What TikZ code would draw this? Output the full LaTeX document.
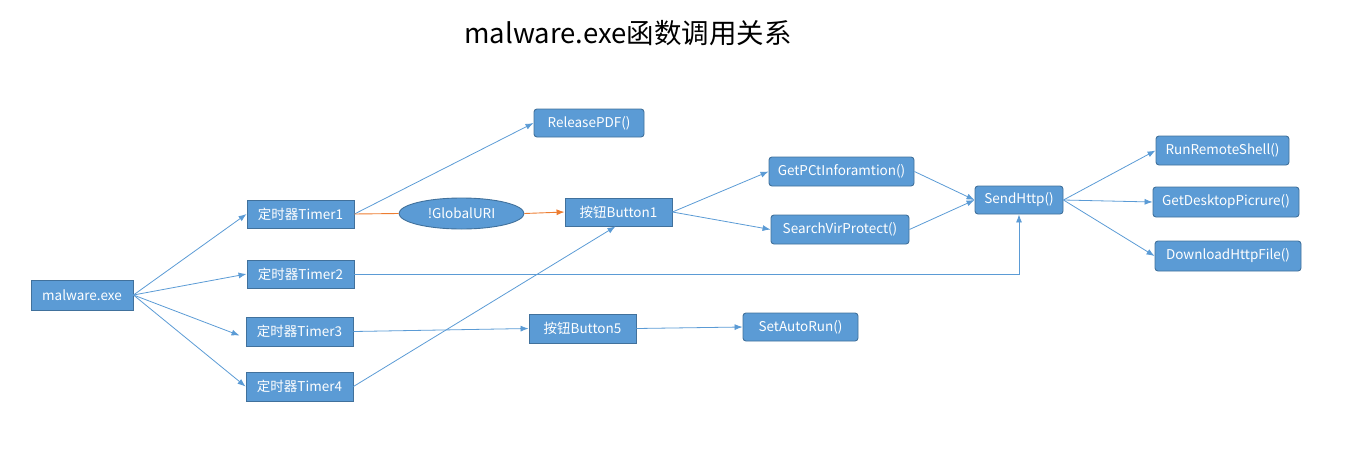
\documentclass[tikz,border=0pt]{standalone}
\usepackage{fontspec}
\setmainfont{Noto Sans CJK SC}
\usetikzlibrary{shapes.geometric,arrows.meta}
\definecolor{boxfill}{HTML}{5B9BD5}
\definecolor{boxline}{HTML}{41719C}
\definecolor{edge}{HTML}{5B9BD5}
\definecolor{orangeedge}{HTML}{ED7D31}
\begin{document}
\begin{tikzpicture}[x=1pt,y=-1pt,
  base/.style={fill=boxfill,draw=boxline,line width=0.9pt,text=white,font=\fontsize{13.5}{15}\selectfont,inner sep=0pt},
  sq/.style={base,rectangle},
  rd/.style={base,rectangle,rounded corners=3pt},
  ell/.style={base,ellipse},
  conn/.style={draw=edge,line width=0.8pt,-{Latex[length=8pt,width=6pt]}},
  oconn/.style={draw=orangeedge,line width=0.9pt},
]
\useasboundingbox (0,0) rectangle (1353,453);
\node[font=\fontsize{27.5}{32}\selectfont] (title) at (628,33) {malware.exe函数调用关系};

\node[sq,minimum width=102pt,minimum height=30pt] (mal) at (82,295) {malware.exe};
\node[sq,minimum width=107pt,minimum height=28pt] (t1) at (300.5,214) {定时器Timer1};
\node[sq,minimum width=107pt,minimum height=28pt] (t2) at (300.5,274) {定时器Timer2};
\node[sq,minimum width=107pt,minimum height=29pt] (t3) at (299.5,331.5) {定时器Timer3};
\node[sq,minimum width=107pt,minimum height=29pt] (t4) at (299.5,386.5) {定时器Timer4};
\node[rd,minimum width=110pt,minimum height=28pt] (rel) at (589,123) {ReleasePDF()};
\node[ell,minimum width=125pt,minimum height=31pt] (uri) at (461.5,213.5) {!GlobalURI};
\node[sq,minimum width=107pt,minimum height=28pt] (b1) at (618.5,212) {按钮Button1};
\node[rd,minimum width=145pt,minimum height=29pt] (pc) at (841.5,171.5) {GetPCtInforamtion()};
\node[rd,minimum width=138pt,minimum height=29pt] (vir) at (840,229.5) {SearchVirProtect()};
\node[rd,minimum width=88pt,minimum height=28pt] (send) at (1019,200) {SendHttp()};
\node[rd,minimum width=133pt,minimum height=29pt] (shell) at (1222.5,150.5) {RunRemoteShell()};
\node[rd,minimum width=146pt,minimum height=30pt] (desk) at (1226,202) {GetDesktopPicrure()};
\node[rd,minimum width=146pt,minimum height=30pt] (down) at (1228,256) {DownloadHttpFile()};
\node[sq,minimum width=107pt,minimum height=29pt] (b5) at (582.5,328.5) {按钮Button5};
\node[rd,minimum width=115pt,minimum height=28pt] (auto) at (800.5,327) {SetAutoRun()};

\draw[conn] (mal.east) -- (t1.west);
\draw[conn] (mal.east) -- (t2.west);
\draw[conn] (mal.east) -- ([xshift=-6pt,yshift=-4pt]t3.west);
\draw[conn] (mal.east) -- (t4.west);
\draw[conn] (t1.east) -- (rel.west);
\draw[oconn] (t1.east) -- (uri.west);
\draw[oconn,-{Latex[length=8pt,width=6pt]}] (uri.east) -- (b1.west);
\draw[conn] (t2.east) -| (send.south);
\draw[conn] (t3.east) -- (b5.west);
\draw[conn] (t4.east) -- ([xshift=-3pt]b1.south);
\draw[conn] (b1.east) -- (pc.west);
\draw[conn] (b1.east) -- (vir.west);
\draw[conn] (pc.east) -- (send.west);
\draw[conn] (vir.east) -- (send.west);
\draw[conn] (send.east) -- (shell.west);
\draw[conn] (send.east) -- (desk.west);
\draw[conn] (send.east) -- (down.west);
\draw[conn] (b5.east) -- (auto.west);
\end{tikzpicture}
\end{document}
